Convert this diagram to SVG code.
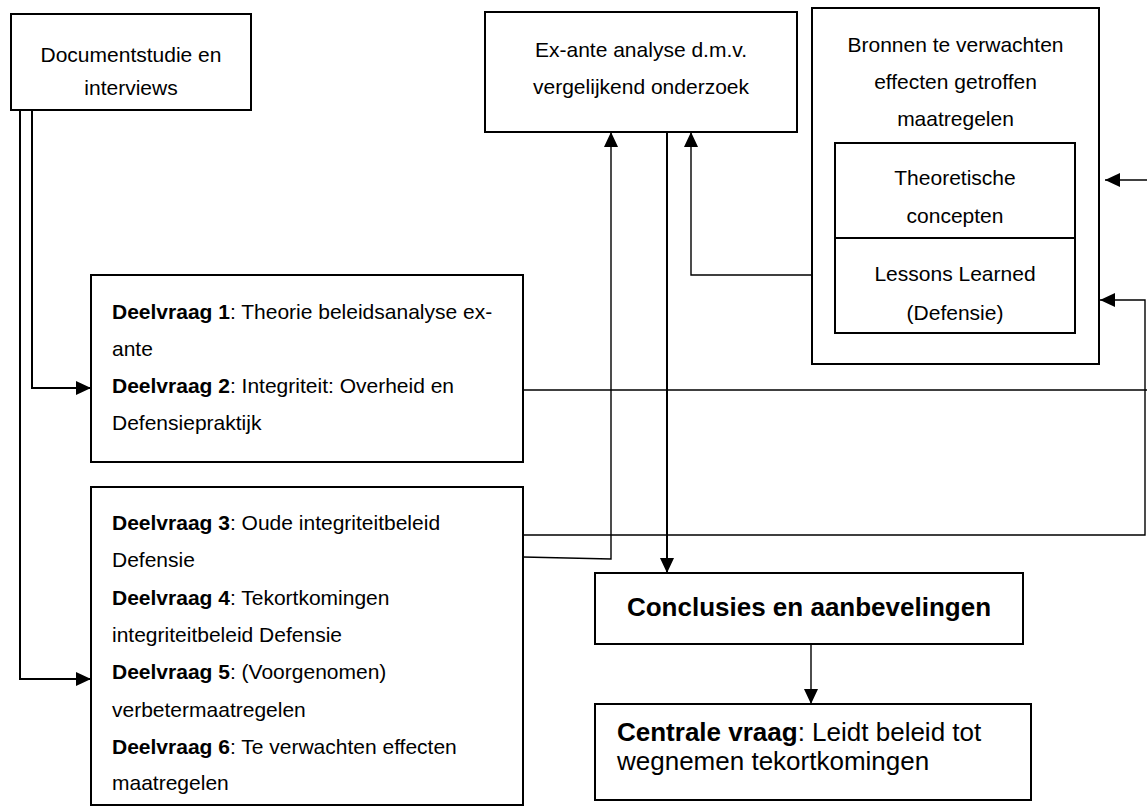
<svg xmlns="http://www.w3.org/2000/svg" width="1147" height="807" viewBox="0 0 1147 807">
<style>
.box{fill:#fff;stroke:#000;stroke-width:2}
.t{font-family:"Liberation Sans",Arial,sans-serif;font-size:21px;fill:#000}
.c{text-anchor:middle}
.b{font-weight:bold}
.big{font-size:26px}
.ln{fill:none;stroke:#000;stroke-width:1.4}
.lnb{fill:none;stroke:#000;stroke-width:2}
</style>
<defs>
<marker id="ah" markerUnits="userSpaceOnUse" markerWidth="15" markerHeight="14" refX="15" refY="7" orient="auto">
<path d="M0,0 L15,7 L0,14 z" fill="#000"/>
</marker>
</defs>
<rect width="1147" height="807" fill="#fff"/>
<g id="connectors">
<path class="lnb" d="M20,110 V679 H91" marker-end="url(#ah)"/>
<path class="lnb" d="M32,110 V388 H91" marker-end="url(#ah)"/>
<path class="ln" d="M523,390 H1150"/>
<path class="ln" d="M1150,180 H1105" marker-end="url(#ah)"/>
<path class="ln" d="M523,535 H1145 V300 H1100" marker-end="url(#ah)"/>
<path class="ln" d="M523,557 L611,559 V132" marker-end="url(#ah)"/>
<path class="lnb" d="M667,132 V573" marker-end="url(#ah)"/>
<path class="ln" d="M812,275 H691 V132" marker-end="url(#ah)"/>
<path class="ln" d="M811,644 V704" marker-end="url(#ah)"/>
</g>
<g id="documentstudie">
<rect class="box" x="11" y="14" width="240" height="96"/>
<text class="t c" x="131" y="62">Documentstudie en</text>
<text class="t c" x="131" y="95">interviews</text>
</g>
<g id="exante">
<rect class="box" x="485" y="12" width="312" height="120"/>
<text class="t c" x="641" y="57">Ex-ante analyse d.m.v.</text>
<text class="t c" x="641" y="94">vergelijkend onderzoek</text>
</g>
<g id="bronnen">
<rect class="box" x="812" y="8" width="287" height="356"/>
<text class="t c" x="955.5" y="52">Bronnen te verwachten</text>
<text class="t c" x="955.5" y="89">effecten getroffen</text>
<text class="t c" x="955.5" y="126">maatregelen</text>
</g>
<g id="theoretische">
<rect class="box" x="835" y="143" width="240" height="95"/>
<text class="t c" x="955" y="185">Theoretische</text>
<text class="t c" x="955" y="223">concepten</text>
</g>
<g id="lessons">
<rect class="box" x="835" y="238" width="240" height="95"/>
<text class="t c" x="955" y="281">Lessons Learned</text>
<text class="t c" x="955" y="320">(Defensie)</text>
</g>
<g id="deelvraag12">
<rect class="box" x="91" y="275" width="432" height="187"/>
<text class="t" x="112" y="319"><tspan class="b">Deelvraag 1</tspan>: Theorie beleidsanalyse ex-</text>
<text class="t" x="112" y="356">ante</text>
<text class="t" x="112" y="393"><tspan class="b">Deelvraag 2</tspan>: Integriteit: Overheid en</text>
<text class="t" x="112" y="430">Defensiepraktijk</text>
</g>
<g id="deelvraag36">
<rect class="box" x="91" y="487" width="432" height="318"/>
<text class="t" x="112" y="530"><tspan class="b">Deelvraag 3</tspan>: Oude integriteitbeleid</text>
<text class="t" x="112" y="567">Defensie</text>
<text class="t" x="112" y="605"><tspan class="b">Deelvraag 4</tspan>: Tekortkomingen</text>
<text class="t" x="112" y="642">integriteitbeleid Defensie</text>
<text class="t" x="112" y="679"><tspan class="b">Deelvraag 5</tspan>: (Voorgenomen)</text>
<text class="t" x="112" y="717">verbetermaatregelen</text>
<text class="t" x="112" y="754"><tspan class="b">Deelvraag 6</tspan>: Te verwachten effecten</text>
<text class="t" x="112" y="790">maatregelen</text>
</g>
<g id="conclusies">
<rect class="box" x="595" y="573" width="428" height="71"/>
<text class="t c b big" x="809" y="616">Conclusies en aanbevelingen</text>
</g>
<g id="centrale">
<rect class="box" x="595" y="704" width="436" height="96"/>
<text class="t big" x="617" y="741"><tspan class="b">Centrale vraag</tspan>: Leidt beleid tot</text>
<text class="t big" x="617" y="770">wegnemen tekortkomingen</text>
</g>
</svg>
